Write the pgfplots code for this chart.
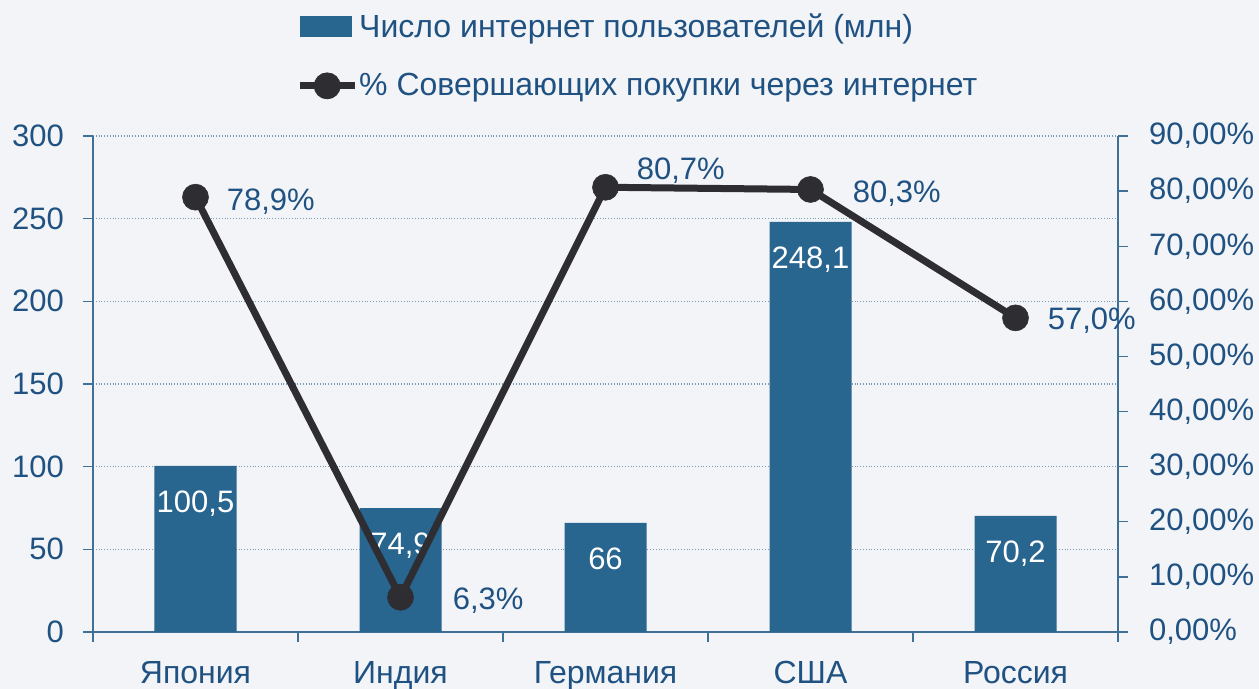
\documentclass[border=0pt]{standalone}
\usepackage{fontspec}
\setmainfont{Liberation Sans}
\usepackage{pgfplots}
\pgfplotsset{compat=1.18}
\definecolor{barblue}{RGB}{40,101,143}
\definecolor{txtblue}{RGB}{31,82,130}
\definecolor{axblue}{RGB}{62,112,152}
\definecolor{linedark}{RGB}{45,45,50}
\definecolor{bg}{RGB}{243,244,247}
\pgfplotstableread{
x y
0 100.5
1 74.9
2 66
3 248.1
4 70.2
}\users
\pgfplotstableread{
x p dx dy
0 78.9 15.5 -2
1 6.3 26 -1.5
2 80.7 15.5 8.5
3 80.3 21 -2
4 57.0 16 -1.5
}\share
\begin{document}
\begin{tikzpicture}
\fill[bg] (-46.5pt,-28.5pt) rectangle (583pt,316pt);
\path[use as bounding box] (-46.5pt,-28.5pt) rectangle (583pt,316pt);
\pgfplotsset{
  common/.style={
    scale only axis, width=512.5pt, height=248pt,
    at={(0,0)}, anchor=south west,
    xmin=-0.5, xmax=4.5,
    tick align=outside, major tick length=5pt,
    tick style={axblue, line width=0.7pt},
    axis line style={axblue, line width=0.9pt, -},
    ticklabel style={font=\fontsize{15.5}{18}\selectfont, text=txtblue},
    /pgf/number format/assume math mode=true,
  }
}
\begin{axis}[common,
  ymin=0, ymax=300,
  axis x line*=bottom, axis y line*=left,
  xtick={-0.5,0.5,...,4.5}, x tick label as interval,
  xticklabels={Япония,Индия,Германия,США,Россия},
  xticklabel style={font=\fontsize{16}{18}\selectfont, yshift=-6pt},
  yticklabel style={xshift=-6pt},
  ytick={0,50,...,300},
  ymajorgrids, grid style={densely dotted, axblue!70, line width=0.6pt},
  legend style={at={(0.192,1.258)}, anchor=north west, draw=none, fill=none,
    font=\fontsize{16}{18}\selectfont, text=txtblue, row sep=15.5pt,
    nodes={inner sep=0.5pt}},
  legend cell align=left,
]
\addplot[ybar, bar width=41pt, fill=barblue, draw=none,
  /pgf/number format/use comma,
  nodes near coords,
  nodes near coords style={anchor=north, yshift=-9pt, text=white,
    font=\fontsize{15.5}{18}\selectfont},
  legend image code/.code={\fill[barblue] (0pt,-5.25pt) rectangle (26pt,5.25pt);}]
  table[x=x,y=y]{\users};
\addlegendentry{Число интернет пользователей (млн)}
\addlegendimage{legend image code/.code={
  \draw[linedark, line width=3.5pt] (0pt,0pt) -- (27.5pt,0pt);
  \fill[linedark] (13.75pt,0pt) circle (6.5pt);}}
\addlegendentry{\% Совершающих покупки через интернет}
\end{axis}
\begin{axis}[common,
  ymin=0, ymax=90,
  axis y line*=right, axis x line=none,
  ytick={0,10,...,90},
  yticklabel style={xshift=7pt},
  yticklabel={\pgfmathprintnumber[fixed,fixed zerofill,precision=2,use comma]{\tick}\%},
]
\addplot[linedark, line width=3.5pt, line join=round,
  mark=*, mark size=6.5pt, mark options={solid, fill=linedark, line width=0.3pt},
  visualization depends on={\thisrow{dx} \as \dx},
  visualization depends on={\thisrow{dy} \as \dy},
  nodes near coords={\pgfmathprintnumber[fixed,fixed zerofill,precision=1,use comma]{\pgfplotspointmeta}\%},
  nodes near coords style={anchor=west, inner sep=0pt, xshift=\dx pt, yshift=\dy pt,
    text=txtblue, font=\fontsize{15.5}{18}\selectfont}]
  table[x=x,y=p]{\share};
\end{axis}
\end{tikzpicture}
\end{document}
